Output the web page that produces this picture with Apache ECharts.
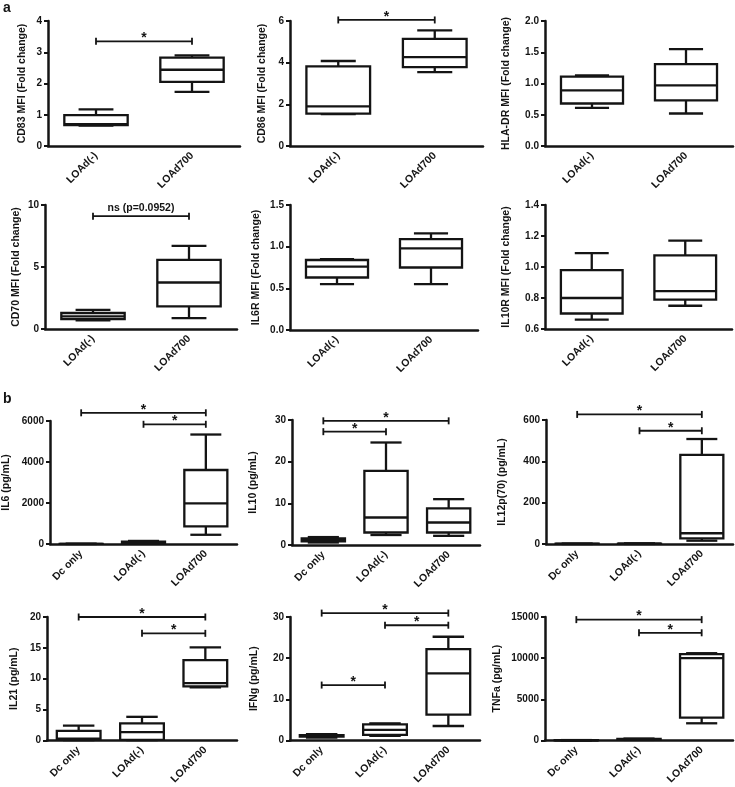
<!DOCTYPE html>
<html><head><meta charset="utf-8">
<script src="https://cdn.jsdelivr.net/npm/echarts@6/dist/echarts.min.js"></script>
<style>html,body{margin:0;padding:0;background:#fff}#c{width:735px;height:787px}</style>
</head><body><div id="c"></div>
<script>
// ---------- data ----------
const catsA = ['LOAd(-)', 'LOAd700'];
const catsB = ['Dc only', 'LOAd(-)', 'LOAd700'];
// each box: [low whisker, Q1, median, Q3, high whisker]
const cd83   = [[0.65, 0.67, 0.70, 0.99, 1.17], [1.73, 2.05, 2.44, 2.83, 2.90]];
const cd86   = [[1.53, 1.55, 1.90, 3.82, 4.08], [3.55, 3.79, 4.27, 5.14, 5.55]];
const hladr  = [[0.61, 0.68, 0.89, 1.11, 1.13], [0.52, 0.73, 0.97, 1.31, 1.55]];
const cd70   = [[0.70, 0.80, 1.02, 1.29, 1.55], [0.88, 1.82, 3.75, 5.58, 6.70]];
const il6r   = [[0.55, 0.63, 0.76, 0.84, 0.85], [0.55, 0.75, 0.98, 1.09, 1.16]];
const il10r  = [[0.66, 0.70, 0.80, 0.98, 1.09], [0.75, 0.79, 0.845, 1.075, 1.17]];
const il6    = [[2, 4, 6, 8, 12], [30, 60, 80, 110, 150], [450, 860, 1980, 3610, 5340]];
const il10   = [[0.6, 0.9, 1.2, 1.6, 1.9], [2.4, 3.0, 6.6, 17.8, 24.6], [2.2, 3.0, 5.4, 8.8, 11.0]];
const il12   = [[0, 0.5, 1, 1.5, 2], [0.5, 1, 1.5, 2, 3], [16, 27, 52, 431, 508]];
const il21   = [[0.05, 0.1, 0.27, 1.54, 2.39], [0.05, 0.1, 1.33, 2.76, 3.82], [8.6, 8.75, 9.28, 13.0, 15.07]];
const ifng   = [[0.7, 0.9, 1.1, 1.3, 1.5], [1.1, 1.35, 2.55, 3.9, 4.14], [3.5, 6.28, 16.3, 22.2, 25.2]];
const tnfa   = [[0, 10, 20, 30, 40], [60, 100, 140, 180, 220], [2080, 2760, 10000, 10480, 10600]];

const yNames = ['CD83 MFI (Fold change)', 'CD86 MFI (Fold change)', 'HLA-DR MFI (Fold change)',
  'CD70 MFI (Fold change)', 'IL6R MFI (Fold change)', 'IL10R MFI (Fold change)',
  'IL6 (pg/mL)', 'IL10 (pg/mL)', 'IL12p(70) (pg/mL)',
  'IL21 (pg/mL)', 'IFNg (pg/mL)', 'TNFa (pg/mL)'];
const yMins = [0, 0, 0, 0, 0, 0.6, 0, 0, 0, 0, 0, 0];
const yMaxs = [4, 6, 2, 10, 1.5, 1.4, 6000, 30, 600, 20, 30, 15000];
const yIntervals = [1, 2, 0.5, 5, 0.5, 0.2, 2000, 10, 200, 5, 10, 5000];
const yDecimals = [0, 0, 1, 0, 1, 1, 0, 0, 0, 0, 0, 0];
// significance brackets: [from category, to category, y value, label]
const brk83 = [[0, 1, 3.35, '*']];
const brk86 = [[0, 1, 6.05, '*']];
const brk70 = [[0, 1, 9.1, 'ns (p=0.0952)']];
const brkIl6 = [[0, 2, 6400, '*'], [1, 2, 5840, '*']];
const brkIl10 = [[0, 2, 29.8, '*'], [0, 1, 27.2, '*']];
const brkIl12 = [[0, 2, 627, '*'], [1, 2, 548, '*']];
const brkIl21 = [[0, 2, 20.0, '*'], [1, 2, 17.35, '*']];
const brkIfng = [[0, 2, 30.95, '*'], [1, 2, 28.0, '*'], [0, 1, 13.45, '*']];
const brkTnfa = [[0, 2, 14680, '*'], [1, 2, 13080, '*']];

const boxSets = [cd83, cd86, hladr, cd70, il6r, il10r, il6, il10, il12, il21, ifng, tnfa];
const brkSets = [brk83, brk86, [], brk70, [], [], brkIl6, brkIl10, brkIl12, brkIl21, brkIfng, brkTnfa];
const catSets = [catsA, catsA, catsA, catsA, catsA, catsA, catsB, catsB, catsB, catsB, catsB, catsB];

// ---------- layout ----------
const grids = [
  [48, 21, 192, 125], [290, 21, 193, 125], [545, 21, 188, 125],
  [45, 205, 192, 124], [290, 205, 188, 125], [545, 205, 187, 124],
  [50, 421, 187, 123], [292, 420, 188, 125], [546, 420, 187, 124],
  [47, 617, 190, 125], [290, 617, 190, 125], [545, 617, 188, 125]
];
const nameGaps = [20, 22, 33, 23, 28, 33, 38, 33, 38, 27, 30, 42];

const INK = '#141414';
const FONT = '"Liberation Sans", Arial, Helvetica, sans-serif';

function boxRenderer(frac, capFrac) {
  return function (params, api) {
    const x = api.value(0);
    const pL = api.coord([x, api.value(1)]);
    const p1 = api.coord([x, api.value(2)]);
    const pM = api.coord([x, api.value(3)]);
    const p3 = api.coord([x, api.value(4)]);
    const pH = api.coord([x, api.value(5)]);
    const band = api.size([1, 0])[0];
    const bw = band * frac, cw = bw * capFrac, cx = pM[0];
    const st = { stroke: INK, lineWidth: 2.3, fill: null };
    return {
      type: 'group', children: [
        { type: 'line', shape: { x1: cx, y1: p3[1], x2: cx, y2: pH[1] }, style: st },
        { type: 'line', shape: { x1: cx, y1: p1[1], x2: cx, y2: pL[1] }, style: st },
        { type: 'line', shape: { x1: cx - cw / 2, y1: pH[1], x2: cx + cw / 2, y2: pH[1] }, style: st },
        { type: 'line', shape: { x1: cx - cw / 2, y1: pL[1], x2: cx + cw / 2, y2: pL[1] }, style: st },
        { type: 'rect', shape: { x: cx - bw / 2, y: p3[1], width: bw, height: p1[1] - p3[1] },
          style: { stroke: INK, lineWidth: 2.3, fill: '#fff' } },
        { type: 'line', shape: { x1: cx - bw / 2, y1: pM[1], x2: cx + bw / 2, y2: pM[1] }, style: st }
      ]
    };
  };
}

function bracketRenderer(list) {
  return function (params, api) {
    const a = api.coord([api.value(0), api.value(2)]);
    const b = api.coord([api.value(1), api.value(2)]);
    const txt = list[params.dataIndex][3];
    const st = { stroke: INK, lineWidth: 1.8 };
    const star = txt === '*';
    return {
      type: 'group', children: [
        { type: 'line', shape: { x1: a[0], y1: a[1], x2: b[0], y2: b[1] }, style: st },
        { type: 'line', shape: { x1: a[0], y1: a[1] - 3.5, x2: a[0], y2: a[1] + 3.5 }, style: st },
        { type: 'line', shape: { x1: b[0], y1: b[1] - 3.5, x2: b[0], y2: b[1] + 3.5 }, style: st },
        { type: 'text', style: { text: txt, x: (a[0] + b[0]) / 2, y: a[1] + (star ? 4 : -3),
          textAlign: 'center', textVerticalAlign: 'bottom', fill: INK,
          font: 'bold ' + (star ? 14 : 10.5) + 'px ' + FONT } }
      ]
    };
  };
}

const option = {
  animation: false,
  backgroundColor: '#fff',
  grid: [], xAxis: [], yAxis: [], series: [],
  graphic: [
    { type: 'text', left: 3, top: 1, style: { text: 'a', font: 'bold 14px ' + FONT, fill: INK } },
    { type: 'text', left: 3, top: 392, style: { text: 'b', font: 'bold 14px ' + FONT, fill: INK } }
  ]
};

for (let i = 0; i < 12; i++) {
  const g = grids[i];
  const cats = catSets[i];
  const three = cats.length === 3;
  option.grid.push({ left: g[0], top: g[1], width: g[2], height: g[3], containLabel: false });
  option.xAxis.push({
    type: 'category', gridIndex: i, data: cats, boundaryGap: true,
    axisLine: { lineStyle: { color: INK, width: 2.5 } },
    axisTick: { alignWithLabel: true, length: 4, lineStyle: { color: INK, width: 2 } },
    axisLabel: { rotate: 45, margin: 8, color: INK, fontWeight: 'bold', fontSize: 10.5, fontFamily: FONT },
    splitLine: { show: false }
  });
  const dec = yDecimals[i];
  option.yAxis.push({
    type: 'value', gridIndex: i, min: yMins[i], max: yMaxs[i], interval: yIntervals[i],
    name: yNames[i], nameLocation: 'middle', nameGap: nameGaps[i], nameRotate: 90,
    nameTextStyle: { color: INK, fontWeight: 'bold', fontSize: 10.5, fontFamily: FONT },
    axisLine: { show: true, lineStyle: { color: INK, width: 2.5 } },
    axisTick: { show: true, length: 4, lineStyle: { color: INK, width: 2 } },
    axisLabel: { margin: 6, color: INK, fontWeight: 'bold', fontSize: 10, fontFamily: FONT,
      formatter: v => Number(v).toFixed(dec) },
    splitLine: { show: false }
  });
  option.series.push({
    type: 'custom', xAxisIndex: i, yAxisIndex: i, clip: false, z: 3,
    renderItem: boxRenderer(three ? 0.69 : 0.66, three ? 0.72 : 0.55),
    encode: { x: 0, y: [1, 2, 3, 4, 5] },
    data: boxSets[i].map((b, k) => [k].concat(b))
  });
  if (brkSets[i].length) {
    option.series.push({
      type: 'custom', xAxisIndex: i, yAxisIndex: i, clip: false, z: 4,
      renderItem: bracketRenderer(brkSets[i]),
      encode: { x: [0, 1], y: 2 },
      data: brkSets[i].map(b => [b[0], b[1], b[2]])
    });
  }
}

const chart = echarts.init(document.getElementById('c'), null, { renderer: 'canvas' });
chart.setOption(option);
</script>
</body></html>
